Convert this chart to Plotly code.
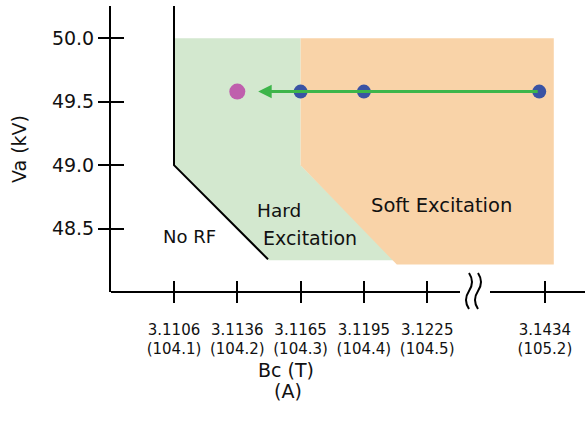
import plotly.graph_objects as go

# ---- data ----
tick_pos = [0, 1, 2, 3, 4, 5.86]           # axis positions (broken axis after 4)
bc_labels = ["3.1106", "3.1136", "3.1165", "3.1195", "3.1225", "3.1434"]
amp_labels = ["(104.1)", "(104.2)", "(104.3)", "(104.4)", "(104.5)", "(105.2)"]
va_ticks = [48.5, 49.0, 49.5, 50.0]
va_labels = ["48.5", "49.0", "49.5", "50.0"]

blue_x = [2, 3, 5.77]
blue_y = [49.58, 49.58, 49.58]
pink_x = [1]
pink_y = [49.58]

norf_x = [0, 0, 1.485]
norf_y = [50.255, 49.0, 48.258]
hard_x = [0, 2, 2, 3.5, 1.485, 0]
hard_y = [50.0, 50.0, 49.0, 48.25, 48.25, 49.0]
soft_x = [2, 6.0, 6.0, 3.52, 2]
soft_y = [50.0, 50.0, 48.216, 48.216, 49.0]

X0, X1 = -0.9953, 6.493
Y0, Y1 = 48.0, 50.255
W, H = 585, 421
ML, MR, MT, MB = 111, 0, 6, 129
PW, PH = W - ML - MR, H - MT - MB

FONT = "DejaVu Sans"

def pxx(px):
    return (px - ML) / PW

def pxy(py):
    return (H - MB - py) / PH

fig = go.Figure()
fig.add_trace(go.Scatter(x=hard_x, y=hard_y, fill="toself", mode="none",
                         fillcolor="#d3e8cf", hoverinfo="skip", showlegend=False))
fig.add_trace(go.Scatter(x=soft_x, y=soft_y, fill="toself", mode="none",
                         fillcolor="#f9d3a8", hoverinfo="skip", showlegend=False))
fig.add_trace(go.Scatter(x=norf_x, y=norf_y, mode="lines",
                         line=dict(color="black", width=2), showlegend=False))
fig.add_trace(go.Scatter(x=blue_x, y=blue_y, mode="markers",
                         marker=dict(color="#3a53a4", size=14), showlegend=False))
fig.add_trace(go.Scatter(x=pink_x, y=pink_y, mode="markers",
                         marker=dict(color="#bf5fad", size=16), showlegend=False))
# invisible trace for overlay axes
fig.add_trace(go.Scatter(x=[tick_pos[0]], y=[va_ticks[0]], xaxis="x2", yaxis="y2",
                         mode="markers", marker=dict(opacity=0), showlegend=False,
                         hoverinfo="skip"))

def txt(x, y, s, size, ref="x", angle=0):
    return dict(x=x, y=y, text=s, showarrow=False, xref=ref,
                yref=("y" if ref == "x" else "paper"), xanchor="center",
                yanchor="middle", textangle=angle,
                font=dict(size=size, color="#111", family=FONT))

annotations = [
    dict(x=1.33, y=blue_y[0], ax=blue_x[-1], ay=blue_y[-1], xref="x", yref="y",
         axref="x", ayref="y", text="", showarrow=True, arrowhead=2, arrowsize=0.9,
         arrowwidth=3, arrowcolor="#3db54a", standoff=0, startstandoff=0),
    txt(0.245, 48.44, "No RF", 18),
    txt(1.66, 48.64, "Hard", 18.5),
    txt(2.15, 48.423, "Excitation", 19),
    txt(4.22, 48.684, "Soft Excitation", 19.5),
    txt(pxx(286), pxy(370), "Bc (T)", 19, ref="paper"),
    txt(pxx(288), pxy(391), "(A)", 19, ref="paper"),
    txt(pxx(19), pxy(149), "Va (kV)", 19, ref="paper", angle=-90),
]

def squiggle(cx):
    pts = [(cx + 1, 273), (cx + 7, 282), (cx + 1, 291), (cx - 5, 300), (cx + 1, 309)]
    p = [(pxx(a), pxy(b)) for a, b in pts]
    return (f"M {p[0][0]},{p[0][1]} Q {p[1][0]},{p[1][1]} {p[2][0]},{p[2][1]} "
            f"Q {p[3][0]},{p[3][1]} {p[4][0]},{p[4][1]}")

shapes = [
    dict(type="line", xref="paper", yref="paper", x0=0, x1=pxx(460), y0=0, y1=0,
         line=dict(color="black", width=2)),
    dict(type="line", xref="paper", yref="paper", x0=pxx(490), x1=1, y0=0, y1=0,
         line=dict(color="black", width=2)),
    dict(type="path", xref="paper", yref="paper", path=squiggle(468),
         line=dict(color="black", width=2)),
    dict(type="path", xref="paper", yref="paper", path=squiggle(477),
         line=dict(color="black", width=2)),
]

fig.update_layout(
    width=W, height=H, margin=dict(l=ML, r=MR, t=MT, b=MB, autoexpand=False),
    paper_bgcolor="white", plot_bgcolor="white",
    font=dict(family=FONT, color="#111"),
    annotations=annotations, shapes=shapes,
    xaxis=dict(range=[X0, X1], showgrid=False, zeroline=False, showline=False,
               tickmode="array", tickvals=tick_pos, ticktext=bc_labels,
               ticks="outside", ticklen=10, tickwidth=2, tickcolor="black",
               tickfont=dict(size=15, family=FONT, color="#111"),
               ticklabelstandoff=14, automargin=False),
    xaxis2=dict(range=[X0, X1], overlaying="x", anchor="y", side="bottom",
                showgrid=False, zeroline=False, showline=False,
                tickmode="array", tickvals=tick_pos, ticktext=amp_labels,
                ticks="inside", ticklen=11, tickwidth=2, tickcolor="black",
                tickfont=dict(size=15, family=FONT, color="#111"),
                ticklabelstandoff=46, automargin=False),
    yaxis=dict(range=[Y0, Y1], showgrid=False, zeroline=False, showline=True,
               linecolor="black", linewidth=2,
               tickmode="array", tickvals=va_ticks, ticktext=va_labels,
               ticks="outside", ticklen=11, tickwidth=2, tickcolor="black",
               tickfont=dict(size=19, family=FONT, color="#111"), automargin=False),
    yaxis2=dict(range=[Y0, Y1], overlaying="y", anchor="x", side="left",
                showgrid=False, zeroline=False, showline=False,
                tickmode="array", tickvals=va_ticks, showticklabels=False,
                ticks="inside", ticklen=13, tickwidth=2, tickcolor="black",
                automargin=False),
)

fig.write_html("out.html", config={"displayModeBar": False},
               post_script="document.body.style.margin='0px';document.body.style.padding='0px';")
